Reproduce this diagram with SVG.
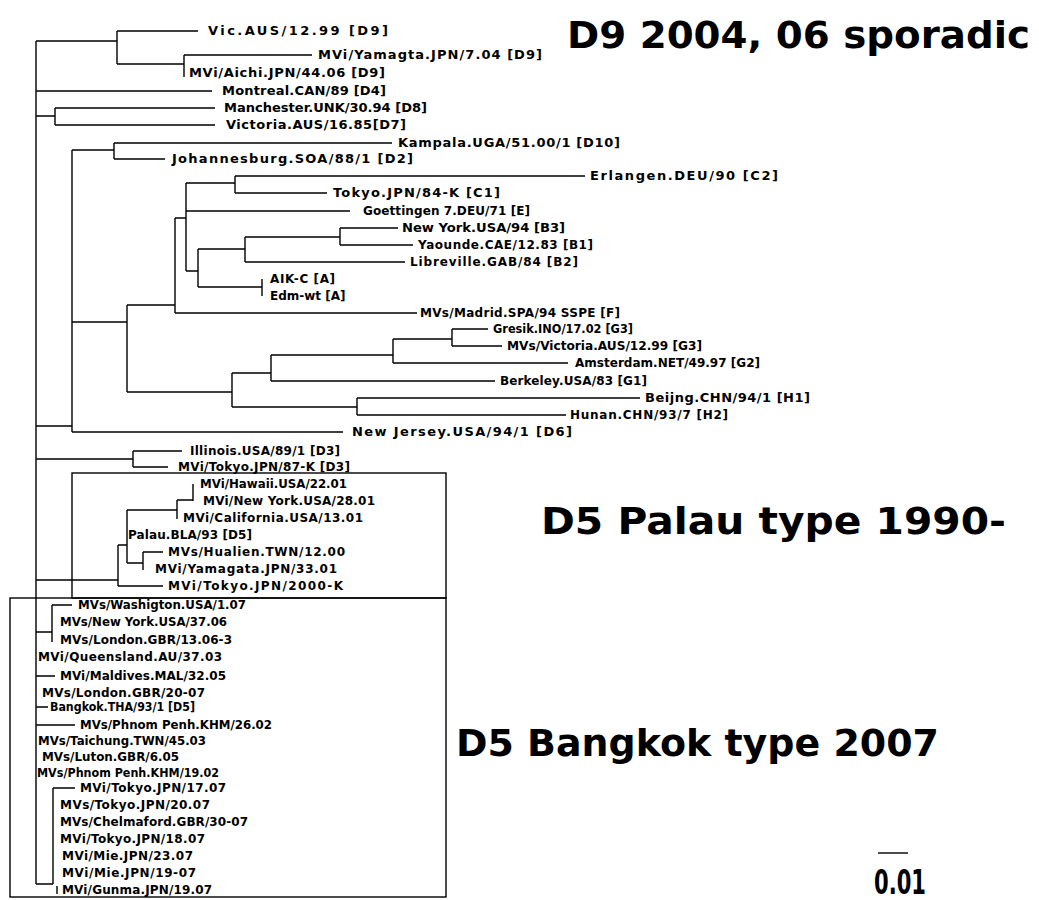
<svg xmlns="http://www.w3.org/2000/svg" width="1039" height="900" viewBox="0 0 1039 900">
<style>
.t{font-family:"DejaVu Sans","Liberation Sans",sans-serif;font-weight:bold;font-size:12px;fill:#000}
.u{font-family:"DejaVu Sans","Liberation Sans",sans-serif;font-weight:bold;font-size:13px;fill:#000}
.h{font-family:"DejaVu Sans","Liberation Sans",sans-serif;font-weight:bold;font-size:38px;fill:#000}
.e{stroke:#000;stroke-width:1.4;fill:none}
.box{stroke:#000;stroke-width:1.4;fill:none}
</style>
<rect width="1039" height="900" fill="#fff"/>
<g id="connectors" class="e">
<path d="M36 41V884M36 41H117M117 31V64M117 31H198M117 64H184M184 55V77M184 55H312
M36 91H212
M36 116H55M55 108V125M55 108H215M55 125H215
M36 426H72M72 150V432M72 150H114M114 143V159M114 143H392M114 159H165
M72 322H127M127 305V392M127 305H175M175 218V313M175 313H417M175 218H186
M186 183V271M186 183H235M235 176V193M235 176H585M235 193H327M186 211H350M186 271H198
M198 249V287M198 249H245M245 237V262M245 237H340M340 228V245M340 228H398M340 245H413M245 262H405
M198 287H262M262 279V296
M127 392H232M232 373V407M232 373H271M271 355V381M271 355H393M393 339V363M393 339H452
M452 329V346M452 329H488M452 346H502M393 363H568M271 381H495
M232 407H357M357 398V415M357 398H640M357 415H566M72 432H343
M36 459H133M133 451V467M133 451H182M133 467H168
M36 580H118M118 545V586M118 586H163M118 545H127M127 510V563M127 510H177M177 500V519M177 500H193M193 484V501M127 563H143M143 552V570M143 552H163
M36 632H52M52 605V642M52 605H72M36 676H55M36 707H48M36 725H75
M36 884H53M53 788V884M53 788H75M57 886V894"/>
</g>
<g id="boxes" class="box">
<rect x="72" y="473" width="374" height="125"/>
<rect x="10" y="598" width="436" height="299"/>
</g>
<g id="n1"><text class="u" x="208" y="35" textLength="180" lengthAdjust="spacing">Vic.AUS/12.99 [D9]</text></g>
<g id="n2"><text class="u" x="318" y="59" textLength="224" lengthAdjust="spacing">MVi/Yamagta.JPN/7.04 [D9]</text></g>
<g id="n3"><text class="u" x="189" y="77" textLength="196" lengthAdjust="spacing">MVi/Aichi.JPN/44.06 [D9]</text></g>
<g id="n4"><text class="u" x="222" y="95" textLength="164" lengthAdjust="spacing">Montreal.CAN/89 [D4]</text></g>
<g id="n5"><text class="u" x="224" y="112" textLength="203" lengthAdjust="spacingAndGlyphs">Manchester.UNK/30.94 [D8]</text></g>
<g id="n6"><text class="u" x="226" y="129" textLength="180" lengthAdjust="spacing">Victoria.AUS/16.85[D7]</text></g>
<g id="n7"><text class="u" x="398" y="147" textLength="222" lengthAdjust="spacing">Kampala.UGA/51.00/1 [D10]</text></g>
<g id="n8"><text class="u" x="172" y="163" textLength="241" lengthAdjust="spacing">Johannesburg.SOA/88/1 [D2]</text></g>
<g id="n9"><text class="u" x="590" y="180" textLength="188" lengthAdjust="spacing">Erlangen.DEU/90 [C2]</text></g>
<g id="n10"><text class="u" x="333" y="197" textLength="167" lengthAdjust="spacing">Tokyo.JPN/84-K [C1]</text></g>
<g id="n11"><text class="t" x="363" y="215" textLength="167" lengthAdjust="spacing">Goettingen 7.DEU/71 [E]</text></g>
<g id="n12"><text class="u" x="402" y="232" textLength="163" lengthAdjust="spacingAndGlyphs">New York.USA/94 [B3]</text></g>
<g id="n13"><text class="t" x="418" y="249" textLength="175" lengthAdjust="spacing">Yaounde.CAE/12.83 [B1]</text></g>
<g id="n14"><text class="t" x="410" y="266" textLength="168" lengthAdjust="spacing">Libreville.GAB/84 [B2]</text></g>
<g id="n15"><text class="t" x="270" y="283" textLength="65" lengthAdjust="spacing">AIK-C [A]</text></g>
<g id="n16"><text class="t" x="270" y="300">Edm-wt [A]</text></g>
<g id="n17"><text class="t" x="420" y="317" textLength="200" lengthAdjust="spacing">MVs/Madrid.SPA/94 SSPE [F]</text></g>
<g id="n18"><text class="t" x="493" y="333" textLength="140" lengthAdjust="spacingAndGlyphs">Gresik.INO/17.02 [G3]</text></g>
<g id="n19"><text class="t" x="507" y="350" textLength="195" lengthAdjust="spacingAndGlyphs">MVs/Victoria.AUS/12.99 [G3]</text></g>
<g id="n20"><text class="t" x="575" y="367" textLength="185" lengthAdjust="spacingAndGlyphs">Amsterdam.NET/49.97 [G2]</text></g>
<g id="n21"><text class="t" x="500" y="385" textLength="147" lengthAdjust="spacing">Berkeley.USA/83 [G1]</text></g>
<g id="n22"><text class="u" x="645" y="402" textLength="165" lengthAdjust="spacing">Beijng.CHN/94/1 [H1]</text></g>
<g id="n23"><text class="t" x="570" y="419" textLength="158" lengthAdjust="spacing">Hunan.CHN/93/7 [H2]</text></g>
<g id="n24"><text class="u" x="352" y="436" textLength="220" lengthAdjust="spacing">New Jersey.USA/94/1 [D6]</text></g>
<g id="n25"><text class="t" x="190" y="455" textLength="150" lengthAdjust="spacing">Illinois.USA/89/1 [D3]</text></g>
<g id="n26"><text class="t" x="178" y="471" textLength="172" lengthAdjust="spacing">MVi/Tokyo.JPN/87-K [D3]</text></g>
<g id="n27"><text class="t" x="200" y="488" textLength="147" lengthAdjust="spacingAndGlyphs">MVi/Hawaii.USA/22.01</text></g>
<g id="n28"><text class="t" x="203" y="505" textLength="172" lengthAdjust="spacing">MVi/New York.USA/28.01</text></g>
<g id="n29"><text class="t" x="183" y="522" textLength="180" lengthAdjust="spacing">MVi/California.USA/13.01</text></g>
<g id="n30"><text class="t" x="128" y="539" textLength="124" lengthAdjust="spacing">Palau.BLA/93 [D5]</text></g>
<g id="n31"><text class="t" x="168" y="556" textLength="177" lengthAdjust="spacing">MVs/Hualien.TWN/12.00</text></g>
<g id="n32"><text class="t" x="155" y="573" textLength="182" lengthAdjust="spacing">MVi/Yamagata.JPN/33.01</text></g>
<g id="n33"><text class="t" x="168" y="590" textLength="175" lengthAdjust="spacing">MVi/Tokyo.JPN/2000-K</text></g>
<g id="n34"><text class="t" x="78" y="609" textLength="168" lengthAdjust="spacingAndGlyphs">MVs/Washigton.USA/1.07</text></g>
<g id="n35"><text class="t" x="60" y="626" textLength="167" lengthAdjust="spacingAndGlyphs">MVs/New York.USA/37.06</text></g>
<g id="n36"><text class="t" x="60" y="644" textLength="172" lengthAdjust="spacing">MVs/London.GBR/13.06-3</text></g>
<g id="n37"><text class="t" x="38" y="661" textLength="184" lengthAdjust="spacing">MVi/Queensland.AU/37.03</text></g>
<g id="n38"><text class="t" x="60" y="680" textLength="166" lengthAdjust="spacing">MVi/Maldives.MAL/32.05</text></g>
<g id="n39"><text class="t" x="42" y="697" textLength="163" lengthAdjust="spacing">MVs/London.GBR/20-07</text></g>
<g id="n40"><text class="t" x="50" y="711" textLength="145" lengthAdjust="spacingAndGlyphs">Bangkok.THA/93/1 [D5]</text></g>
<g id="n41"><text class="t" x="80" y="729" textLength="192" lengthAdjust="spacingAndGlyphs">MVs/Phnom Penh.KHM/26.02</text></g>
<g id="n42"><text class="t" x="38" y="745" textLength="168" lengthAdjust="spacingAndGlyphs">MVs/Taichung.TWN/45.03</text></g>
<g id="n43"><text class="t" x="42" y="761" textLength="137" lengthAdjust="spacingAndGlyphs">MVs/Luton.GBR/6.05</text></g>
<g id="n44"><text class="t" x="37" y="777" textLength="182" lengthAdjust="spacingAndGlyphs">MVs/Phnom Penh.KHM/19.02</text></g>
<g id="n45"><text class="t" x="80" y="792" textLength="146" lengthAdjust="spacing">MVi/Tokyo.JPN/17.07</text></g>
<g id="n46"><text class="t" x="60" y="809" textLength="150" lengthAdjust="spacing">MVs/Tokyo.JPN/20.07</text></g>
<g id="n47"><text class="t" x="60" y="826" textLength="188" lengthAdjust="spacing">MVs/Chelmaford.GBR/30-07</text></g>
<g id="n48"><text class="t" x="60" y="843" textLength="145" lengthAdjust="spacing">MVi/Tokyo.JPN/18.07</text></g>
<g id="n49"><text class="t" x="62" y="860" textLength="131" lengthAdjust="spacing">MVi/Mie.JPN/23.07</text></g>
<g id="n50"><text class="t" x="62" y="877" textLength="134" lengthAdjust="spacing">MVi/Mie.JPN/19-07</text></g>
<g id="n51"><text class="t" x="62" y="894" textLength="150" lengthAdjust="spacing">MVi/Gunma.JPN/19.07</text></g>
<g id="titles">
<text class="h" x="567" y="48" textLength="463" lengthAdjust="spacingAndGlyphs">D9 2004, 06 sporadic</text>
<text class="h" x="541" y="534" textLength="465" lengthAdjust="spacingAndGlyphs">D5 Palau type 1990-</text>
<text class="h" x="456" y="756" textLength="483" lengthAdjust="spacingAndGlyphs">D5 Bangkok type 2007</text>
</g>
<g id="scale">
<path class="e" d="M878 853H908"/>
<text class="h" x="874" y="894" style="font-size:34px" textLength="52" lengthAdjust="spacingAndGlyphs">0.01</text>
</g>
</svg>
